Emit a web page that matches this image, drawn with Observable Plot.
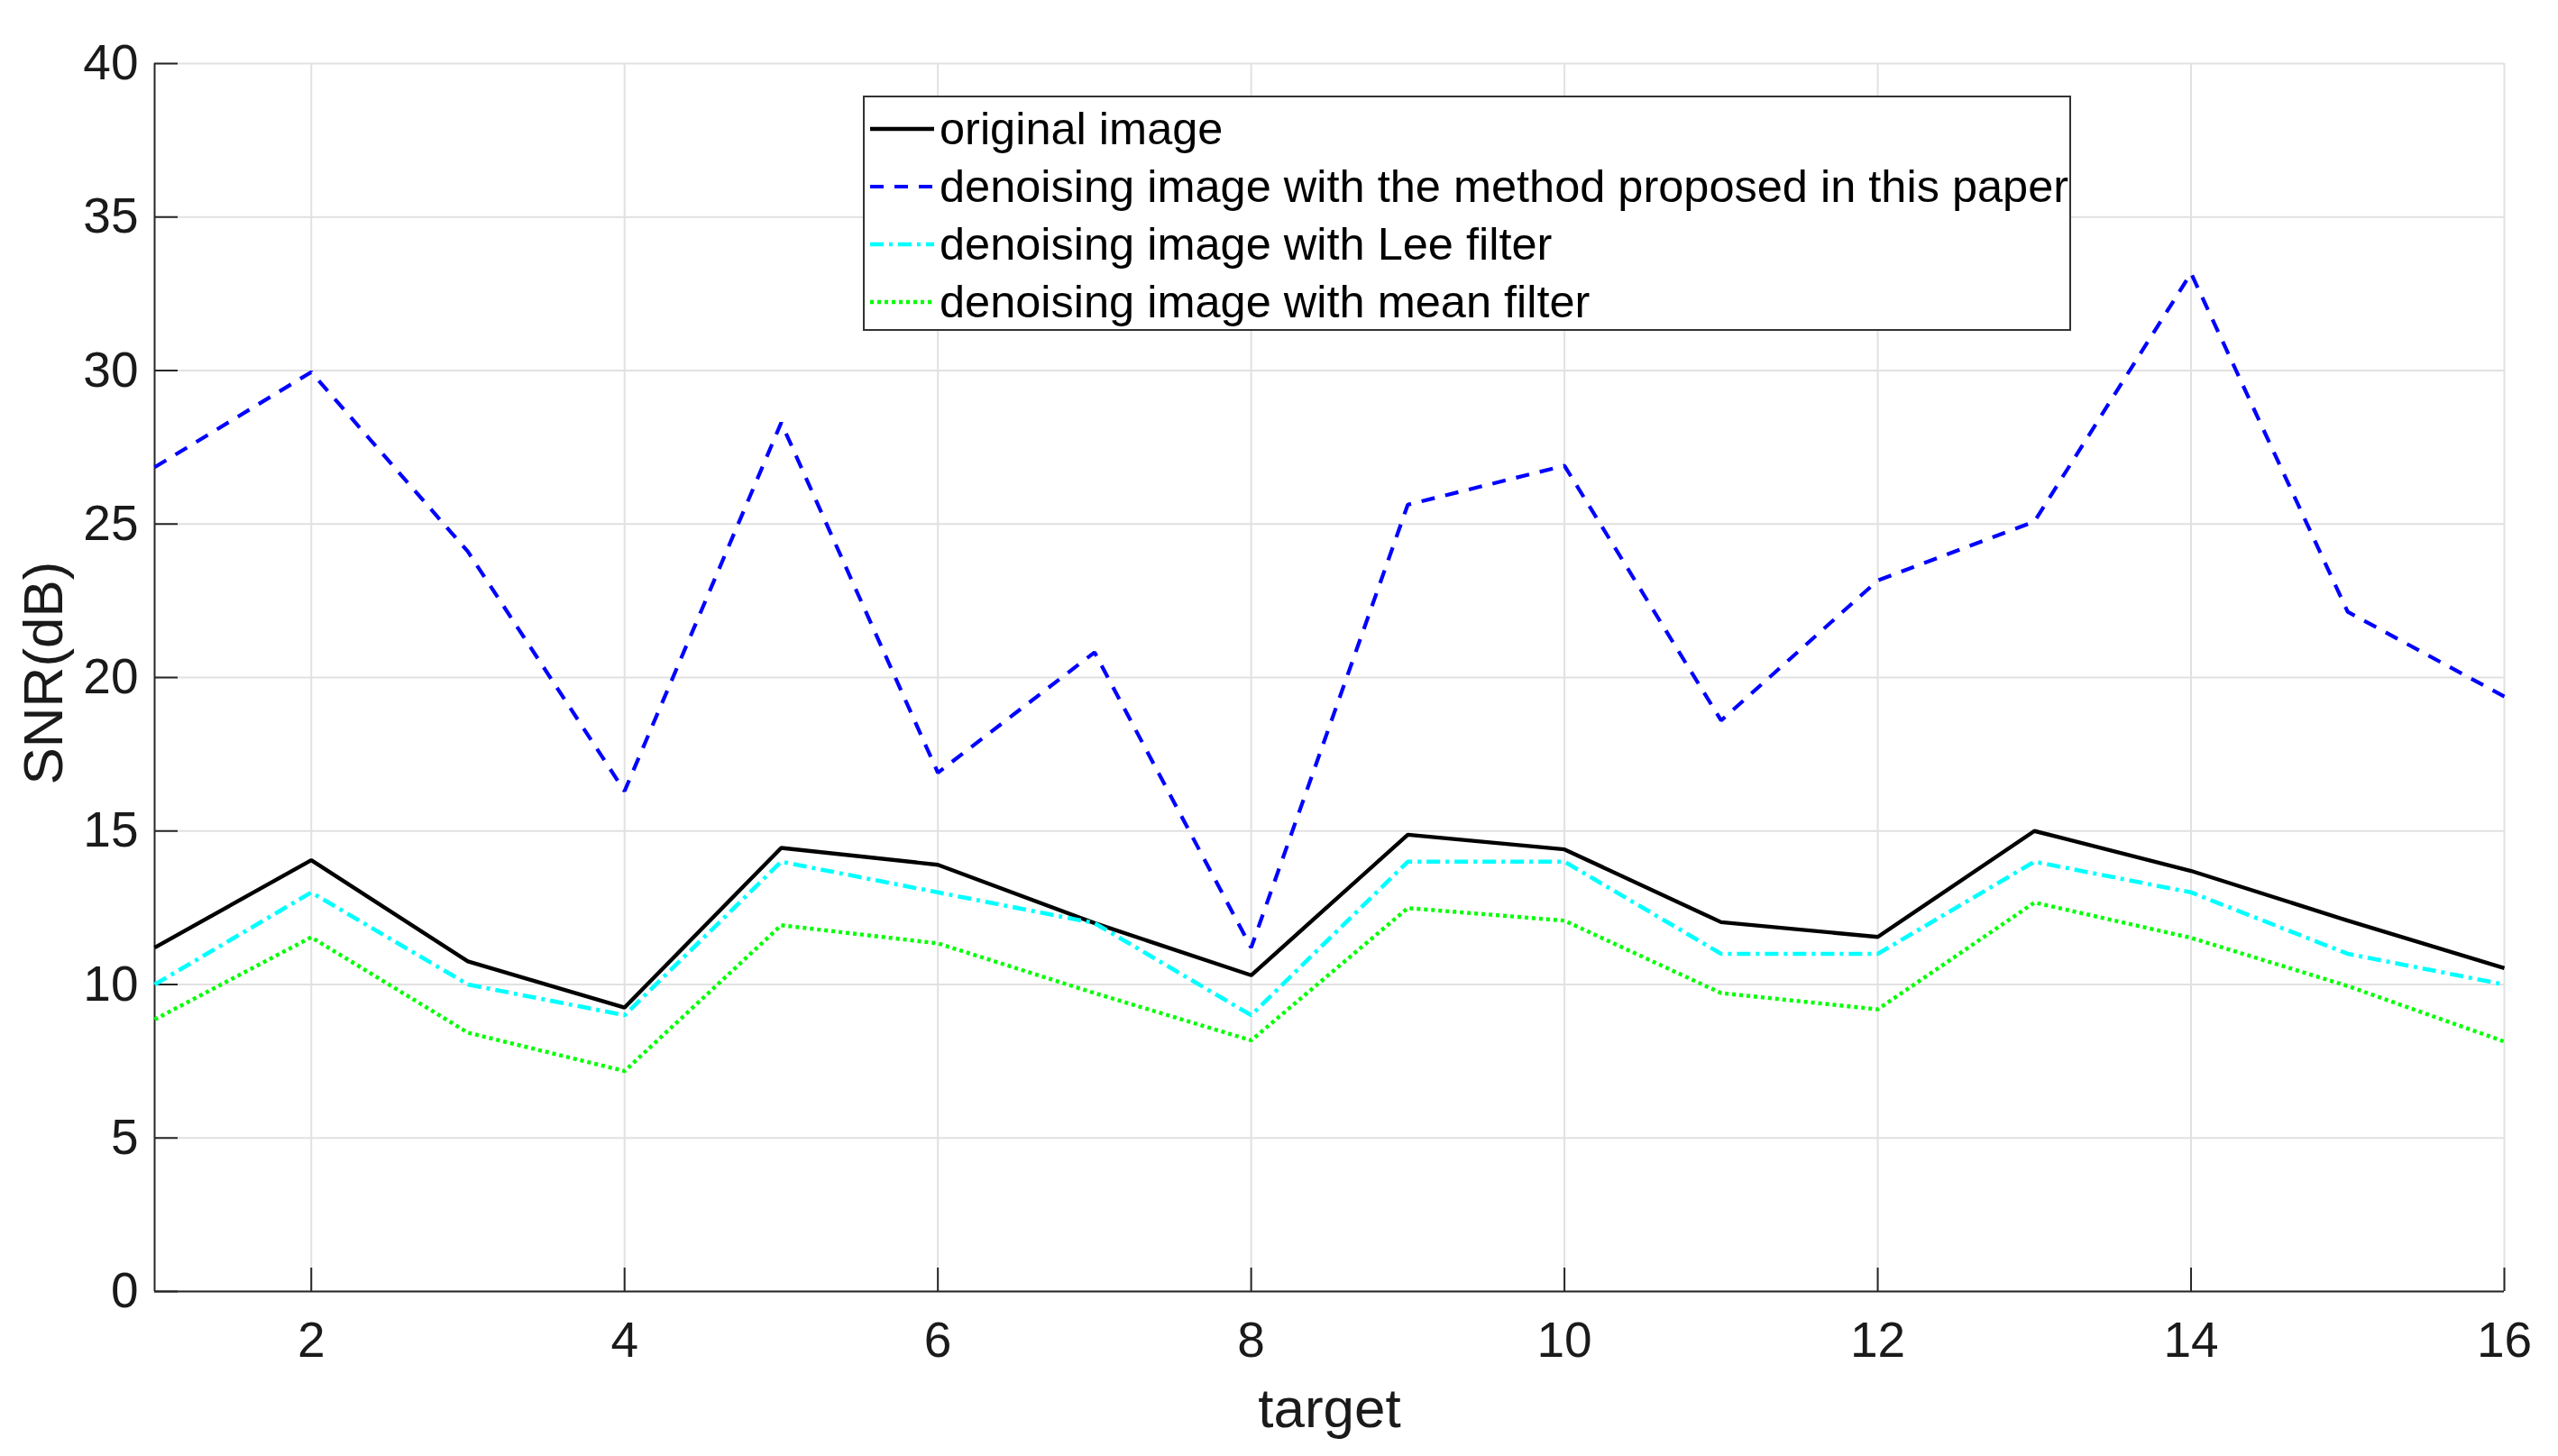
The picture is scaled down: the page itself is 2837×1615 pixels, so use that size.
<!DOCTYPE html>
<html>
<head>
<meta charset="utf-8">
<script src="https://cdn.jsdelivr.net/npm/d3@7"></script>
<script src="https://cdn.jsdelivr.net/npm/@observablehq/plot@0.6"></script>
<style>
  body { margin: 0; background: #fff; }
  #wrap { position: relative; width: 2837px; height: 1615px; font-family: "Liberation Sans", Arial, sans-serif; background: #fff; }
  #legend { position: absolute; left: 957px; top: 106px; width: 1336px; height: 257px; border: 2px solid #333; background: #fff; }
  .row { position: absolute; left: 0; height: 64px; display: flex; align-items: center; }
  .row svg { margin-left: 6px; }
  .row span { margin-left: 6px; font-size: 50.5px; color: #000; white-space: nowrap; line-height: 64px; }
</style>
</head>
<body>
<div id="wrap"></div>
<script>
// ---- data ----
const targets = [1, 2, 3, 4, 5, 6, 7, 8, 9, 10, 11, 12, 13, 14, 15, 16];
const originalImage = [11.2, 14.05, 10.75, 9.25, 14.45, 13.9, 12.0, 10.3, 14.88, 14.4, 12.03, 11.55, 15.0, 13.7, 12.08, 10.53];
const proposedMethod = [26.85, 29.95, 24.1, 16.3, 28.3, 16.9, 20.82, 11.2, 25.63, 26.9, 18.6, 23.16, 25.08, 33.17, 22.14, 19.38];
const leeFilter = [10.0, 13.0, 10.0, 9.0, 14.0, 13.0, 12.0, 9.0, 14.0, 14.0, 11.0, 11.0, 14.0, 13.0, 11.0, 10.0];
const meanFilter = [8.86, 11.54, 8.43, 7.18, 11.93, 11.34, 9.72, 8.18, 12.49, 12.08, 9.72, 9.19, 12.67, 11.52, 9.95, 8.14];
const seriesNames = [
  "original image",
  "denoising image with the method proposed in this paper",
  "denoising image with Lee filter",
  "denoising image with mean filter"
];
const xTicks = [2, 4, 6, 8, 10, 12, 14, 16];
const yTicks = [0, 5, 10, 15, 20, 25, 30, 35, 40];
const xLabel = "target";
const yLabel = "SNR(dB)";

// ---- styles ----
const seriesValues = [originalImage, proposedMethod, leeFilter, meanFilter];
const seriesStyles = [
  {stroke: "#000000", strokeWidth: 4.4, dash: null},
  {stroke: "#0000ff", strokeWidth: 4.2, dash: "15,12"},
  {stroke: "#00ffff", strokeWidth: 4.6, dash: "15,6,4,6"},
  {stroke: "#00ff00", strokeWidth: 4.4, dash: "4,4"}
];

const W = 2837, H = 1615, mL = 171, mR = 60, mT = 70, mB = 183;
const pw = W - mL - mR, ph = H - mT - mB;
const tickLen = 26;
const axisColor = "#262626";
const gridColor = "#e1e1e1";

const lineMarks = seriesValues.map((vals, i) => {
  const rows = targets.map((t, j) => ({target: t, value: vals[j]}));
  const s = seriesStyles[i];
  return Plot.line(rows, {
    x: "target", y: "value",
    stroke: s.stroke, strokeWidth: s.strokeWidth,
    strokeDasharray: s.dash, strokeLinejoin: "miter", strokeLinecap: "butt"
  });
});

const chart = Plot.plot({
  width: W, height: H,
  marginLeft: mL, marginRight: mR, marginTop: mT, marginBottom: mB,
  style: {fontFamily: "'Liberation Sans', Arial, sans-serif", fontSize: "55px", color: axisColor, background: "#fff", overflow: "visible"},
  x: {domain: [1, 16]},
  y: {domain: [0, 40]},
  marks: [
    Plot.gridX({ticks: xTicks, stroke: gridColor, strokeOpacity: 1, strokeWidth: 2}),
    Plot.gridY({ticks: yTicks, stroke: gridColor, strokeOpacity: 1, strokeWidth: 2}),
    Plot.tickX(xTicks, {x: d => d, stroke: axisColor, strokeWidth: 2, insetTop: ph - tickLen}),
    Plot.tickY(yTicks, {y: d => d, stroke: axisColor, strokeWidth: 2, insetRight: pw - tickLen}),
    Plot.ruleX([1], {stroke: axisColor, strokeWidth: 2}),
    Plot.ruleY([0], {stroke: axisColor, strokeWidth: 2}),
    Plot.axisX({ticks: xTicks, tickSize: 0, tickPadding: 33, label: null, fontSize: 55, fill: "#1a1a1a"}),
    Plot.axisY({ticks: yTicks, tickSize: 0, tickPadding: 18, label: null, fontSize: 55, fill: "#1a1a1a"}),
    Plot.text([xLabel], {text: d => d, frameAnchor: "bottom", textAnchor: "middle", lineAnchor: "middle", dy: 131, fontSize: 62, fill: "#1a1a1a"}),
    Plot.text([yLabel], {text: d => d, frameAnchor: "left", textAnchor: "middle", lineAnchor: "middle", rotate: -90, dx: -122, dy: -5, fontSize: 62, fill: "#1a1a1a"}),
    ...lineMarks
  ]
});

const wrap = document.getElementById("wrap");
wrap.appendChild(chart);

// ---- legend (overlay inside the axes, as in the reference) ----
const legend = document.createElement("div");
legend.id = "legend";
seriesNames.forEach((name, i) => {
  const s = seriesStyles[i];
  const row = document.createElement("div");
  row.className = "row";
  row.style.top = (3 + i * 64) + "px";
  const ns = "http://www.w3.org/2000/svg";
  const svg = document.createElementNS(ns, "svg");
  svg.setAttribute("width", "71");
  svg.setAttribute("height", "20");
  const ln = document.createElementNS(ns, "line");
  ln.setAttribute("x1", "0"); ln.setAttribute("x2", "71");
  ln.setAttribute("y1", "10"); ln.setAttribute("y2", "10");
  ln.setAttribute("stroke", s.stroke);
  ln.setAttribute("stroke-width", s.strokeWidth);
  if (s.dash) ln.setAttribute("stroke-dasharray", s.dash);
  svg.appendChild(ln);
  const span = document.createElement("span");
  span.textContent = name;
  row.appendChild(svg);
  row.appendChild(span);
  legend.appendChild(row);
});
wrap.appendChild(legend);
</script>
</body>
</html>
